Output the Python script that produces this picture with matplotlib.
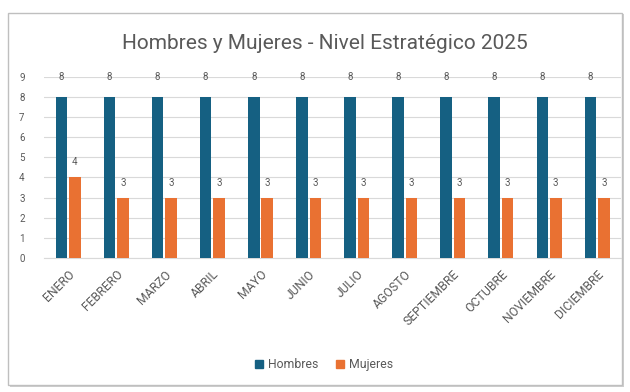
import matplotlib
matplotlib.use("Agg")
import matplotlib.pyplot as plt
from matplotlib.patches import Rectangle, Patch
import numpy as np

plt.rcParams['font.family'] = ['Roboto', 'DejaVu Sans']

months = ["ENERO", "FEBRERO", "MARZO", "ABRIL", "MAYO", "JUNIO", "JULIO",
          "AGOSTO", "SEPTIEMBRE", "OCTUBRE", "NOVIEMBRE", "DICIEMBRE"]
hombres = [8, 8, 8, 8, 8, 8, 8, 8, 8, 8, 8, 8]
mujeres = [4, 3, 3, 3, 3, 3, 3, 3, 3, 3, 3, 3]
y_ticks = list(range(0, 10))

blue = "#156082"
orange = "#E97132"
text_gray = "#595959"

fig = plt.figure(figsize=(6.3, 3.92), dpi=100)

# chart frame with a soft shadow
fig.patches.append(Rectangle((0.016, 0.012), 0.975, 0.952, transform=fig.transFigure,
                             facecolor="#cfcfcf", edgecolor="none", zorder=-2))
fig.patches.append(Rectangle((0.012, 0.018), 0.975, 0.950, transform=fig.transFigure,
                             facecolor="white", edgecolor="#bfbfbf", linewidth=1.0, zorder=-1))

ax = fig.add_axes([0.070, 0.342, 0.916, 0.462])
ax.set_zorder(2)
ax.set_facecolor("none")
x = np.arange(len(months))
w = 0.24
off = 0.14
bh = ax.bar(x - off, hombres, width=w, color=blue, zorder=3, label="Hombres")
bm = ax.bar(x + off, mujeres, width=w, color=orange, zorder=3, label="Mujeres")

for xi, v in zip(x, hombres):
    ax.text(xi - off, v + 0.75, f"{v}", ha="center", va="bottom", fontsize=7, color=text_gray)
for xi, v in zip(x, mujeres):
    ax.text(xi + off, v + 0.5, f"{v}", ha="center", va="bottom", fontsize=7, color=text_gray)

ax.set_xlim(-0.5, len(months) - 0.5)
ax.set_ylim(0, 9)
ax.set_yticks(y_ticks)
ax.set_yticklabels([str(t) for t in y_ticks], fontsize=7, color=text_gray)
ax.yaxis.grid(True, color="#d9d9d9", linewidth=0.8, zorder=0)
ax.set_xticks(x)
ax.set_xticklabels(months, rotation=45, ha="right", rotation_mode="anchor",
                   fontsize=8.8, color=text_gray)
ax.tick_params(axis="x", length=0, pad=7)
ax.tick_params(axis="y", length=0, pad=14)
for s in ["top", "right", "left"]:
    ax.spines[s].set_visible(False)
ax.spines["bottom"].set_color("#d9d9d9")

fig.text(0.516, 0.89, "Hombres y Mujeres - Nivel Estratégico 2025", ha="center", va="center",
         fontsize=15, color=text_gray)

fig.legend(handles=[Patch(color=blue, label="Hombres"), Patch(color=orange, label="Mujeres")],
           loc="center", bbox_to_anchor=(0.514, 0.069), ncol=2, frameon=False,
           fontsize=8.8, labelcolor=text_gray, handlelength=0.7, handleheight=0.7,
           handletextpad=0.4, columnspacing=1.4)

fig.savefig("out.png", dpi=100)
